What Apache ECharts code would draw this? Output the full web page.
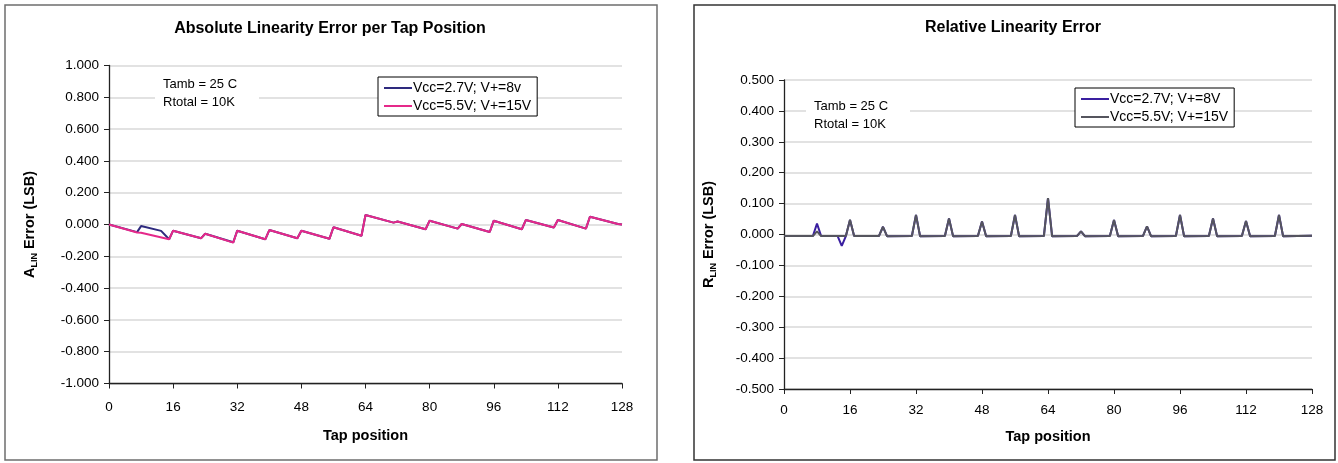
<!DOCTYPE html>
<html>
<head>
<meta charset="utf-8">
<script src="https://cdn.jsdelivr.net/npm/echarts@6/dist/echarts.min.js"></script>
<style>
html,body{margin:0;padding:0;background:#fff;}
#c{width:1338px;height:463px;}
</style>
</head>
<body>
<div id="c"></div>
<script>
// ---- Data ----
const xTicks = [0, 16, 32, 48, 64, 80, 96, 112, 128];
const absYTicks = [-1.0, -0.8, -0.6, -0.4, -0.2, 0.0, 0.2, 0.4, 0.6, 0.8, 1.0];
const relYTicks = [-0.5, -0.4, -0.3, -0.2, -0.1, 0.0, 0.1, 0.2, 0.3, 0.4, 0.5];

const seriesNamesAbs = ['Vcc=2.7V; V+=8v', 'Vcc=5.5V; V+=15V'];
const seriesNamesRel = ['Vcc=2.7V; V+=8V', 'Vcc=5.5V; V+=15V\u200b'];

// Absolute linearity error, Vcc=2.7V (tap, LSB)
const absTaps27 = [0, 7, 8, 13, 15, 16, 23, 24, 31, 32, 39, 40, 47, 48, 55, 56, 63, 64, 71, 72, 79, 80, 87, 88, 95, 96, 103, 104, 111, 112, 119, 120, 127, 128];
const absVals27 = [0.000, -0.048, -0.010, -0.040, -0.093, -0.039, -0.086, -0.058, -0.112, -0.039, -0.093, -0.035, -0.086, -0.039, -0.090, -0.017, -0.071, 0.060, 0.012, 0.019, -0.030, 0.024, -0.026, 0.003, -0.047, 0.024, -0.030, 0.028, -0.019, 0.028, -0.026, 0.049, 0.003, 0.000];
// Absolute linearity error, Vcc=5.5V
const absTaps55 = [0, 7, 8, 15, 16, 23, 24, 31, 32, 39, 40, 47, 48, 55, 56, 63, 64, 71, 72, 79, 80, 87, 88, 95, 96, 103, 104, 111, 112, 119, 120, 127, 128];
const absVals55 = [0.000, -0.050, -0.052, -0.093, -0.039, -0.086, -0.058, -0.114, -0.039, -0.093, -0.035, -0.086, -0.039, -0.090, -0.017, -0.071, 0.060, 0.012, 0.019, -0.030, 0.024, -0.026, 0.003, -0.047, 0.024, -0.030, 0.028, -0.019, 0.028, -0.026, 0.049, 0.003, 0.000];

// Relative linearity error, Vcc=2.7V
const relTaps27 = [0, 7, 8, 9, 13, 14, 15, 16, 17, 23, 24, 25, 31, 32, 33, 39, 40, 41, 47, 48, 49, 55, 56, 57, 63, 64, 65, 71, 72, 73, 79, 80, 81, 87, 88, 89, 95, 96, 97, 103, 104, 105, 111, 112, 113, 119, 120, 121, 128];
const relVals27 = [-0.005, -0.005, 0.035, -0.005, -0.005, -0.037, -0.005, 0.047, -0.005, -0.005, 0.025, -0.006, -0.005, 0.063, -0.006, -0.005, 0.052, -0.006, -0.005, 0.042, -0.006, -0.005, 0.063, -0.006, -0.005, 0.118, -0.006, -0.005, 0.010, -0.006, -0.005, 0.047, -0.006, -0.005, 0.026, -0.006, -0.005, 0.063, -0.006, -0.005, 0.052, -0.006, -0.005, 0.044, -0.006, -0.005, 0.063, -0.006, -0.004];
// Relative linearity error, Vcc=5.5V
const relTaps55 = [0, 7, 8, 9, 15, 16, 17, 23, 24, 25, 31, 32, 33, 39, 40, 41, 47, 48, 49, 55, 56, 57, 63, 64, 65, 71, 72, 73, 79, 80, 81, 87, 88, 89, 95, 96, 97, 103, 104, 105, 111, 112, 113, 119, 120, 121, 128];
const relVals55 = [-0.005, -0.005, 0.010, -0.005, -0.005, 0.048, -0.005, -0.005, 0.025, -0.006, -0.005, 0.063, -0.006, -0.005, 0.052, -0.006, -0.005, 0.042, -0.006, -0.005, 0.063, -0.006, -0.005, 0.118, -0.006, -0.005, 0.010, -0.006, -0.005, 0.047, -0.006, -0.005, 0.026, -0.006, -0.005, 0.063, -0.006, -0.005, 0.052, -0.006, -0.005, 0.044, -0.006, -0.005, 0.063, -0.006, -0.004];

const zip = (xs, ys) => xs.map((x, i) => [x, ys[i]]);

const FONT = '"Liberation Sans", Arial, sans-serif';
const colorBlueL = '#2e2a7e';
const colorPink = '#e5298a';
const colorBlueR = '#3a1fa0';
const colorGrey = '#55555e';

const chart = echarts.init(document.getElementById('c'), null, {renderer: 'canvas'});

function xAxisCfg(gi, labelMargin, nameGap) {
  return {
    type: 'value', gridIndex: gi, min: xTicks[0], max: xTicks[xTicks.length - 1], interval: 16,
    axisLine: {show: true, onZero: false, lineStyle: {color: '#222', width: 1.3}},
    axisTick: {show: true, inside: false, length: 5, lineStyle: {color: '#222'}},
    axisLabel: {color: '#000', fontSize: 13.5, fontFamily: FONT, margin: labelMargin},
    splitLine: {show: false},
    name: 'Tap position', nameLocation: 'middle', nameGap: nameGap,
    nameTextStyle: {color: '#000', fontSize: 14.5, fontWeight: 'bold', fontFamily: FONT}
  };
}
function yAxisCfg(gi, ticks, nameRich, nameGap) {
  const step = +(ticks[1] - ticks[0]).toFixed(3);
  return {
    type: 'value', gridIndex: gi, min: ticks[0], max: ticks[ticks.length - 1], interval: step,
    axisLine: {show: true, onZero: false, lineStyle: {color: '#222', width: 1.3}},
    axisTick: {show: true, inside: false, length: 5, lineStyle: {color: '#222'}},
    axisLabel: {color: '#000', fontSize: 13.5, fontFamily: FONT, margin: 10, formatter: v => v.toFixed(3)},
    splitLine: {show: true, lineStyle: {color: '#d9d9d9', width: 1.5}},
    name: nameRich, nameLocation: 'middle', nameGap: nameGap, nameRotate: 90,
    nameTextStyle: {
      color: '#000', fontFamily: FONT,
      rich: {
        b: {fontSize: 14.5, fontWeight: 'bold', fontFamily: FONT, color: '#000', lineHeight: 18},
        s: {fontSize: 9, fontWeight: 'bold', fontFamily: FONT, color: '#000', verticalAlign: 'bottom', padding: [6, 0, 0, 0]}
      }
    }
  };
}

function annot(x, y, w) {
  return {
    type: 'group', x: x, y: y, z: 50, children: [
      {type: 'rect', z: 50, shape: {x: -8, y: -10, width: w, height: 38}, style: {fill: '#fff'}},
      {type: 'text', z: 51, x: 0, y: 0, style: {text: 'Tamb = 25 C', font: '13px ' + FONT, fill: '#000', textVerticalAlign: 'middle'}},
      {type: 'text', z: 51, x: 0, y: 18, style: {text: 'Rtotal = 10K', font: '13px ' + FONT, fill: '#000', textVerticalAlign: 'middle'}}
    ]
  };
}

const legendCommon = {
  orient: 'vertical',
  backgroundColor: '#fff', borderColor: '#000', borderWidth: 1,
  padding: [4, 6, 3, 6], itemGap: 4, itemWidth: 28, itemHeight: 2, icon: 'rect',
  textStyle: {fontSize: 14, fontFamily: FONT, color: '#000', padding: [0, 0, 0, -4]}
};

const option = {
  animation: false,
  backgroundColor: '#fff',
  textStyle: {fontFamily: FONT},
  grid: [
    {left: 109, top: 65.5, width: 513, height: 318},
    {left: 784, top: 80, width: 528, height: 309}
  ],
  xAxis: [xAxisCfg(0, 17, 45), xAxisCfg(1, 14, 40)],
  yAxis: [
    yAxisCfg(0, absYTicks, '{b|A}{s|LIN}{b| Error (LSB)}', 70),
    yAxisCfg(1, relYTicks, '{b|R}{s|LIN}{b| Error (LSB)}', 66)
  ],
  legend: [
    Object.assign({data: seriesNamesAbs, left: 378, top: 77}, legendCommon),
    Object.assign({data: seriesNamesRel, left: 1075, top: 88}, legendCommon)
  ],
  series: [
    {name: seriesNamesAbs[0], type: 'line', xAxisIndex: 0, yAxisIndex: 0, data: zip(absTaps27, absVals27),
      showSymbol: false, color: colorBlueL, lineStyle: {width: 2, color: colorBlueL}, z: 2},
    {name: seriesNamesAbs[1], type: 'line', xAxisIndex: 0, yAxisIndex: 0, data: zip(absTaps55, absVals55),
      showSymbol: false, color: colorPink, lineStyle: {width: 2, color: colorPink}, z: 3},
    {name: seriesNamesRel[0], type: 'line', xAxisIndex: 1, yAxisIndex: 1, data: zip(relTaps27, relVals27),
      showSymbol: false, color: colorBlueR, lineStyle: {width: 2, color: colorBlueR}, z: 2},
    {name: seriesNamesRel[1], type: 'line', xAxisIndex: 1, yAxisIndex: 1, data: zip(relTaps55, relVals55),
      showSymbol: false, color: colorGrey, lineStyle: {width: 2, color: colorGrey}, z: 3}
  ],
  graphic: [
    {type: 'rect', shape: {x: 5, y: 5, width: 652, height: 455}, style: {fill: 'none', stroke: '#6e6e6e', lineWidth: 1.5}, silent: true},
    {type: 'rect', shape: {x: 694, y: 5, width: 641, height: 455}, style: {fill: 'none', stroke: '#333', lineWidth: 1.5}, silent: true},
    {type: 'text', x: 330, y: 29, style: {text: 'Absolute Linearity Error per Tap Position', font: 'bold 16px ' + FONT, fill: '#000', textAlign: 'center', textVerticalAlign: 'middle'}},
    {type: 'text', x: 1013, y: 28, style: {text: 'Relative Linearity Error', font: 'bold 16px ' + FONT, fill: '#000', textAlign: 'center', textVerticalAlign: 'middle'}},
    annot(163, 84, 104),
    annot(814, 106, 104)
  ]
};
chart.setOption(option);
</script>
</body>
</html>
